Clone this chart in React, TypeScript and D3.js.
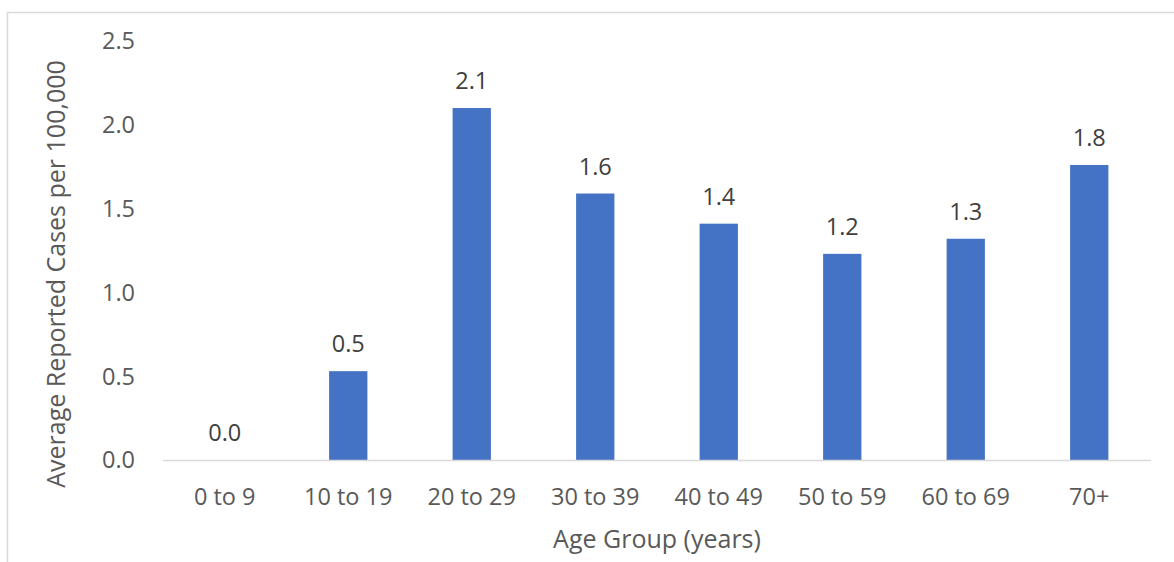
import * as d3 from "d3"

const ageGroups = ["0 to 9", "10 to 19", "20 to 29", "30 to 39", "40 to 49", "50 to 59", "60 to 69", "70+"]
const rates = [0, 0.53, 2.1, 1.59, 1.41, 1.23, 1.32, 1.76]
const yTicks = [0, 0.5, 1, 1.5, 2, 2.5]

const W = 1174
const H = 562
const margin = { top: 41, right: 23, bottom: 102, left: 163 }
const FONT = "'Open Sans', sans-serif"

export default function App() {
  const x = d3.scaleBand()
    .domain(ageGroups)
    .range([margin.left, W - margin.right])
    .paddingInner(0.69)
    .paddingOuter(0.345)

  const y = d3.scaleLinear()
    .domain([0, 2.5])
    .range([H - margin.bottom, margin.top])

  const fmt = d3.format(".1f")
  const step = x.step()
  const center = (d: string) => (x(d) || 0) + x.bandwidth() / 2

  return (
    <div style={{ position: "absolute", left: 0, top: 0 }}>
      <svg width={W} height={H} style={{ display: "block", fontFamily: FONT }}>
        <rect x={0} y={0} width={W} height={H} fill="#fff" />
        {/* chart frame */}
        <rect x={7.5} y={12.5} width={W + 20} height={H + 20} fill="none" stroke="#d9d9d9" strokeWidth={1.5} />

        {/* y tick labels */}
        {yTicks.map((t) => (
          <text key={t} x={135} y={y(t)} dy="0.36em" textAnchor="end" fill="#595959" fontSize={23.5}>
            {fmt(t)}
          </text>
        ))}

        {/* bars */}
        {ageGroups.map((g, i) => (
          <rect
            key={g}
            x={x(g)}
            y={y(rates[i])}
            width={x.bandwidth()}
            height={y(0) - y(rates[i])}
            fill="#4472c4"
          />
        ))}

        {/* baseline */}
        <line
          x1={margin.left}
          x2={margin.left + step * ageGroups.length}
          y1={y(0) + 0.5}
          y2={y(0) + 0.5}
          stroke="#d9d9d9"
          strokeWidth={1.5}
        />

        {/* data labels */}
        {ageGroups.map((g, i) => (
          <text key={g} x={center(g)} y={y(rates[i]) - 19} textAnchor="middle" fill="#404040" fontSize={23.5}>
            {fmt(rates[i])}
          </text>
        ))}

        {/* x tick labels */}
        {ageGroups.map((g) => (
          <text key={g} x={center(g)} y={505} textAnchor="middle" fill="#595959" fontSize={23.5}>
            {g}
          </text>
        ))}

        <text x={(margin.left + W - margin.right) / 2} y={548} textAnchor="middle" fill="#595959" fontSize={25}>
          Age Group (years)
        </text>
        <text
          transform={`translate(65, ${274}) rotate(-90)`}
          textAnchor="middle"
          fill="#595959"
          fontSize={25}
        >
          Average Reported Cases per 100,000
        </text>
      </svg>
    </div>
  )
}
